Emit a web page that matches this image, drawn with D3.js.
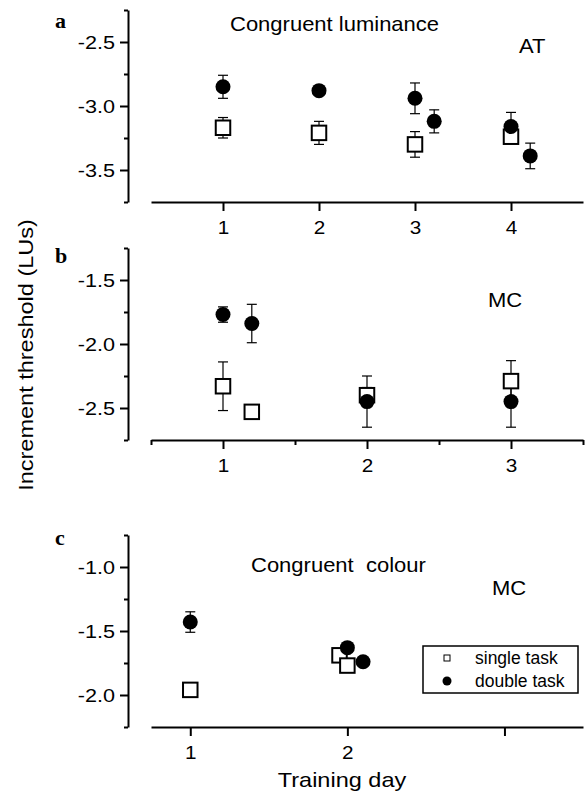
<!DOCTYPE html>
<html><head><meta charset="utf-8">
<script src="https://cdn.jsdelivr.net/npm/d3@7"></script>
<style>
body{margin:0;background:#fff;}
svg{display:block;font-family:"Liberation Sans",Arial,Helvetica,sans-serif;}
</style></head>
<body>
<svg id="chart" width="587" height="797"></svg>
<script>
// ---- data: [day, value, error] ----
const singleA = [[1,-3.17,0.08],[2,-3.21,0.09],[3,-3.30,0.10],[4,-3.24,0.05]];
const doubleA = [[1,-2.85,0.09],[2,-2.88,0.0],[3,-2.94,0.12],[3.2,-3.12,0.09],[4,-3.16,0.11],[4.2,-3.39,0.10]];
const singleB = [[1,-2.33,0.19],[1.2,-2.53,0.0],[2,-2.40,0.06],[3,-2.29,0.16]];
const doubleB = [[1,-1.77,0.06],[1.2,-1.84,0.15],[2,-2.45,0.20],[3,-2.45,0.20]];
const singleC = [[1,-1.96,0.0],[1.95,-1.69,0.04],[2,-1.77,0.0]];
const doubleC = [[1,-1.43,0.08],[2,-1.63,0.03],[2.1,-1.74,0.0]];

const xTicksA = [1,2,3,4];
const xTicksB = [1,2,3];
const xMinorB = [0.5,1.5,2.5,3.5];
const xTicksC = [1,2,3];
const xLabelsC = ["1","2",""];
const yMajorA = [-2.5,-3.0,-3.5];
const yMajorB = [-1.5,-2.0,-2.5];
const yMajorC = [-1.0,-1.5,-2.0];

const panels = [
  {letter:"a", xDomain:[0.25,4.75], yDomain:[-3.75,-2.25], yRange:[202,10],
   xTicks:xTicksA, xLabels:xTicksA.map(String), xMinor:[], yMajor:yMajorA,
   single:singleA, dbl:doubleA,
   texts:[{t:"Congruent luminance",x:230,y:31},{t:"AT",x:519,y:53}], letterY:28},
  {letter:"b", xDomain:[0.5,3.5], yDomain:[-2.75,-1.25], yRange:[440,248],
   xTicks:xTicksB, xLabels:xTicksB.map(String), xMinor:xMinorB, yMajor:yMajorB,
   single:singleB, dbl:doubleB,
   texts:[{t:"MC",x:488,y:307}], letterY:263},
  {letter:"c", xDomain:[0.75,3.5], yDomain:[-2.25,-0.75], yRange:[727,535],
   xTicks:xTicksC, xLabels:xLabelsC, xMinor:[], yMajor:yMajorC,
   single:singleC, dbl:doubleC,
   texts:[{t:"Congruent\u00a0\u00a0colour",x:251,y:572},{t:"MC",x:492,y:595}], letterY:545}
];

const svg = d3.select("#chart");
const axisX0 = 128, xLeft = 151, xRight = 583;

panels.forEach(p => {
  const x = d3.scaleLinear().domain(p.xDomain).range([xLeft, xRight]);
  const y = d3.scaleLinear().domain(p.yDomain).range(p.yRange);
  const yBottom = p.yRange[0];

  // y minor ticks (every 0.25)
  const yAll = d3.range(p.yDomain[0], p.yDomain[1] + 0.001, 0.25).map(v => +v.toFixed(2));
  const yMinor = yAll.filter(v => !p.yMajor.some(m => Math.abs(m - v) < 1e-6));
  const gy = svg.append("g").attr("transform", `translate(${axisX0},0)`);
  gy.call(d3.axisLeft(y).tickValues(yMinor).tickSize(4).tickSizeOuter(0).tickFormat(""));
  const gyM = svg.append("g").attr("transform", `translate(${axisX0},0)`);
  gyM.call(d3.axisLeft(y).tickValues(p.yMajor).tickSize(8).tickSizeOuter(0).tickPadding(5).tickFormat(d3.format(".1f")));
  gyM.select(".domain").remove();
  [gy, gyM].forEach(g => {
    g.selectAll("path.domain").attr("stroke", "#000").attr("stroke-width", 2);
    g.selectAll(".tick line").attr("stroke", "#000").attr("stroke-width", 2);
  });
  gyM.selectAll(".tick text")
    .attr("fill", "#000").attr("font-size", 18.5)
    .attr("font-family", '"Liberation Sans",Arial,sans-serif')
    .attr("x", 0).attr("dy", "0.36em")
    .attr("transform", "translate(-13,0) scale(1.17,1)")
    .text(d => d3.format(".1f")(d).replace("−", "-"));

  // x axis
  const gx = svg.append("g").attr("transform", `translate(0,${yBottom})`);
  gx.call(d3.axisBottom(x).tickValues(p.xTicks).tickSize(9).tickSizeOuter(0).tickPadding(10)
    .tickFormat((d, i) => p.xLabels[i]));
  gx.selectAll("path.domain").attr("stroke", "#000").attr("stroke-width", 2);
  gx.selectAll(".tick line").attr("stroke", "#000").attr("stroke-width", 2);
  gx.selectAll(".tick text").attr("fill", "#000").attr("font-size", 18.5)
    .attr("font-family", '"Liberation Sans",Arial,sans-serif')
    .attr("transform", "scale(1.12,1)");
  if (p.xMinor.length) {
    const gxm = svg.append("g").attr("transform", `translate(0,${yBottom})`);
    gxm.call(d3.axisBottom(x).tickValues(p.xMinor).tickSize(5).tickSizeOuter(0).tickFormat(""));
    gxm.select(".domain").remove();
    gxm.selectAll(".tick line").attr("stroke", "#000").attr("stroke-width", 2);
  }

  // error bars
  const all = p.single.concat(p.dbl).filter(d => d[2] > 0);
  const eb = svg.append("g").attr("stroke", "#000").attr("stroke-width", 1.2);
  all.forEach(d => {
    const cx = x(d[0]), y1 = y(d[1] + d[2]), y2 = y(d[1] - d[2]);
    eb.append("line").attr("x1", cx).attr("x2", cx).attr("y1", y1).attr("y2", y2);
    eb.append("line").attr("x1", cx - 5).attr("x2", cx + 5).attr("y1", y1).attr("y2", y1);
    eb.append("line").attr("x1", cx - 5).attr("x2", cx + 5).attr("y1", y2).attr("y2", y2);
  });

  // squares
  const s = 14.5;
  svg.append("g").selectAll("rect").data(p.single).join("rect")
    .attr("x", d => x(d[0]) - s / 2).attr("y", d => y(d[1]) - s / 2)
    .attr("width", s).attr("height", s)
    .attr("fill", "#fff").attr("stroke", "#000").attr("stroke-width", 2);
  // circles
  svg.append("g").selectAll("circle").data(p.dbl).join("circle")
    .attr("cx", d => x(d[0])).attr("cy", d => y(d[1])).attr("r", 7.5)
    .attr("fill", "#000");

  // panel letter
  svg.append("text").attr("x", 55).attr("y", p.letterY)
    .attr("font-family", '"Liberation Serif","Times New Roman",serif')
    .attr("font-weight", "bold").attr("font-size", 22).text(p.letter);
  // annotations
  p.texts.forEach(t => {
    svg.append("text").attr("transform", `translate(${t.x},${t.y}) scale(1.1,1)`)
      .attr("font-size", 20).attr("fill", "#000").text(t.t);
  });
});

// axis titles
svg.append("text").attr("transform", "translate(342,787) scale(1.12,1)")
  .attr("text-anchor", "middle").attr("font-size", 21).text("Training day");
svg.append("text").attr("transform", "translate(33,355) rotate(-90) scale(1.12,1)")
  .attr("text-anchor", "middle").attr("font-size", 21).text("Increment threshold (LUs)");

// legend
const lg = svg.append("g");
lg.append("rect").attr("x", 423).attr("y", 646).attr("width", 155).attr("height", 47)
  .attr("fill", "#fff").attr("stroke", "#000").attr("stroke-width", 1.5);
const legendItems = ["single task", "double task"];
lg.append("rect").attr("x", 444).attr("y", 655).attr("width", 6).attr("height", 6)
  .attr("fill", "#fff").attr("stroke", "#000").attr("stroke-width", 1);
lg.append("circle").attr("cx", 447).attr("cy", 681).attr("r", 4.5).attr("fill", "#000");
legendItems.forEach((t, i) => {
  lg.append("text").attr("x", 475).attr("y", 664 + i * 23).attr("font-size", 17.5).text(t);
});
</script>
</body></html>
